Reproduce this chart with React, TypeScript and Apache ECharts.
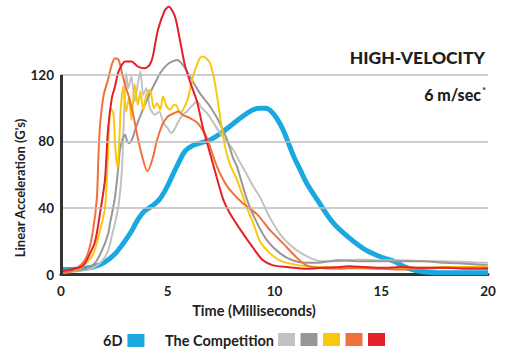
import React, { useEffect, useRef } from "react";
import * as echarts from "echarts";

// ---- Data (time in ms, acceleration in G) ----
const xTicks = [0, 5, 10, 15, 20];
const yTickLabels = [0, 40, 80, 120];

const sixDT = [0, 0.5, 1, 1.5, 2, 2.5, 2.85, 3.3, 3.6, 3.9, 4.25, 4.6, 4.9, 5.2, 5.5, 5.8, 6.1, 6.5, 7.0, 7.5, 7.9, 8.5, 9.0, 9.3, 9.6, 9.85, 10.1, 10.4, 10.9, 11.2, 11.5, 12.0, 12.75, 13.5, 14.3, 15.1, 15.6, 16.2, 17.0, 18, 19, 20];
const sixDG = [3, 3, 3.5, 4.5, 7, 12, 17.5, 26, 33, 38, 41, 45, 51, 59, 67, 74, 77, 79, 81, 85, 89, 95, 99, 100, 100, 98, 94, 87, 71, 63, 55, 45, 31, 22, 14.5, 10, 8, 4, 1.5, 1, 1, 1];

const lightGrayT = [0, 0.5, 1.0, 1.5, 1.92, 2.2, 2.4, 2.55, 2.7, 2.85, 2.95, 3.05, 3.15, 3.3, 3.45, 3.6, 3.72, 3.85, 4.0, 4.17, 4.4, 4.6, 4.8, 5.0, 5.15, 5.3, 5.5, 5.7, 5.9, 6.1, 6.37, 6.6, 6.84, 7.15, 7.45, 7.75, 8.06, 8.4, 8.71, 9.0, 9.32, 9.79, 10.4, 11.05, 11.66, 12.2, 13, 14, 15, 16, 17, 18, 19, 20];
const lightGrayG = [1, 1.5, 2.5, 4, 8, 14, 24, 32, 42, 62, 95, 121, 112, 119, 104, 115, 122, 108, 112, 100, 96, 98, 91, 88, 85, 87, 92, 96, 98, 101, 104, 100, 97, 91, 85, 80, 75, 67, 60, 53, 46.5, 34, 22, 14.5, 10, 8, 8, 9, 8.5, 8.5, 8, 8, 7.5, 7];

const grayT = [0, 0.5, 1.0, 1.26, 1.6, 1.92, 2.2, 2.3, 2.44, 2.53, 2.65, 2.76, 2.9, 3.0, 3.1, 3.2, 3.35, 3.5, 3.8, 4.17, 4.4, 4.64, 4.96, 5.2, 5.43, 5.71, 6.04, 6.5, 6.98, 7.4, 7.78, 8.06, 8.24, 8.71, 9.18, 9.65, 10.26, 10.87, 11.5, 12, 13, 14, 15, 16, 17, 18, 19, 20];
const grayG = [1.5, 2, 3, 4, 7, 14.5, 24, 31, 40, 46.5, 60, 75, 82, 84, 80, 79, 82, 88, 98, 109, 115, 121, 126, 128, 129, 126, 119, 109, 101, 92, 81, 70, 65, 45, 31, 20.5, 12.7, 8.4, 7, 7, 8.5, 8, 8, 8, 8, 7, 6.5, 5.5];

const yellowT = [0, 0.5, 1.0, 1.5, 1.8, 2.06, 2.2, 2.32, 2.45, 2.55, 2.65, 2.8, 2.92, 3.05, 3.18, 3.3, 3.45, 3.6, 3.72, 3.85, 4.0, 4.17, 4.35, 4.5, 4.65, 4.78, 4.95, 5.11, 5.3, 5.43, 5.6, 5.71, 5.9, 6.04, 6.2, 6.37, 6.5, 6.65, 6.8, 6.98, 7.21, 7.45, 7.68, 7.92, 8.24, 8.71, 9.0, 9.32, 9.79, 10.26, 10.73, 11.2, 12, 13, 14, 15, 16, 17, 18, 19, 20];
const yellowG = [1, 2, 4.5, 12, 25, 40, 72, 100, 97, 75, 64, 100, 113, 98, 106, 93, 114, 102, 110, 99, 108, 111, 100, 103, 99, 107, 101, 99, 102, 101, 97, 99, 104, 111, 120, 126, 130, 131, 130, 127, 115, 95, 77, 66, 57, 40, 31, 20, 12.7, 8.4, 6.6, 5.4, 4.5, 4, 3.5, 3.5, 4, 4, 4.5, 4.5, 5];

const orangeT = [0, 0.5, 1.0, 1.26, 1.5, 1.68, 1.75, 1.83, 2.0, 2.2, 2.4, 2.55, 2.7, 2.86, 3.0, 3.2, 3.4, 3.55, 3.8, 4.05, 4.3, 4.5, 4.75, 5.0, 5.3, 5.5, 5.7, 6.04, 6.4, 6.84, 7.0, 7.3, 7.6, 7.9, 8.5, 9.2, 9.8, 10.4, 11.05, 11.5, 12, 13, 14, 15, 16, 17, 18, 19, 20];
const orangeG = [1, 2, 6.6, 12.6, 26.5, 46, 70, 90, 108, 117, 127, 130, 129, 121, 114, 106, 95, 85, 71, 62, 70, 81, 90, 95, 97, 98, 96, 94, 91, 82, 76, 65, 57, 51, 43, 36, 26.5, 18.7, 10, 5.5, 4, 3.5, 4, 3.5, 3, 3.5, 4, 4, 4];

const redT = [0, 0.5, 1.0, 1.26, 1.6, 1.83, 2.06, 2.2, 2.38, 2.53, 2.67, 2.85, 3.0, 3.3, 3.6, 3.93, 4.15, 4.3, 4.54, 4.87, 5.05, 5.34, 5.57, 5.8, 6.04, 6.37, 6.65, 7.0, 7.3, 7.6, 7.9, 8.4, 9.0, 9.46, 9.93, 10.6, 11.5, 12.2, 13.0, 13.5, 14.2, 15, 16, 17, 18, 19, 20];
const redG = [2, 3, 5, 10, 20, 37, 57, 87, 106, 113, 121, 126, 128, 128, 125, 124, 126, 131, 147, 159, 161, 155, 141, 126, 116, 104, 88, 72, 58, 45, 37, 27, 16, 8.5, 5.5, 4.5, 3.5, 4, 4.5, 5, 4.5, 4, 4.5, 4, 4, 3.5, 3.5];

const competitionNames = ["Competition 1", "Competition 2", "Competition 3", "Competition 4", "Competition 5"];
const colors = {
  sixD: "#1aa8e0",
  lightGray: "#c2c2c2",
  gray: "#979797",
  yellow: "#f9c80f",
  orange: "#f2703a",
  red: "#e4202a",
};

const FONT = "Lato, 'Open Sans', sans-serif";

function pairs(t: number[], g: number[]) {
  return t.map((x, i) => [x, g[i]]);
}

export default function App() {
  const ref = useRef<HTMLDivElement>(null);

  useEffect(() => {
    if (!ref.current) return;
    const chart = echarts.init(ref.current, undefined, { renderer: "svg" });

    const comp = (name: string, color: string, t: number[], g: number[]) => ({
      name,
      type: "line",
      data: pairs(t, g),
      showSymbol: false,
      smooth: 0.25,
      color,
      itemStyle: { color },
      lineStyle: { color, width: 2 },
      z: 3,
    });

    const option: any = {
      animation: false,
      backgroundColor: "#ffffff",
      grid: { left: 61, right: 18, top: 0, bottom: 81.5 },
      xAxis: {
        type: "value",
        min: 0,
        max: 20,
        interval: 5,
        axisLine: { show: true, lineStyle: { color: "#333333", width: 3 } },
        axisTick: { show: false },
        splitLine: { show: false },
        axisLabel: {
          margin: 9,
          fontFamily: FONT,
          fontWeight: "bold",
          fontSize: 13.5,
          color: "#222222",
          formatter: (v: number) => (xTicks.includes(v) ? String(v) : ""),
        },
      },
      yAxis: {
        type: "value",
        min: 0,
        max: 165,
        interval: 40,
        axisLine: { show: false },
        axisTick: { show: false },
        splitLine: { show: false },
        axisLabel: {
          margin: 7,
          fontFamily: FONT,
          fontWeight: "bold",
          fontSize: 13.5,
          color: "#222222",
          showMaxLabel: false,
          formatter: (v: number) => (yTickLabels.includes(v) ? String(v) : ""),
        },
      },
      legend: [
        {
          data: ["6D"],
          left: 103,
          top: 333,
          align: "right",
          icon: "rect",
          itemWidth: 17,
          itemHeight: 13,
          selectedMode: false,
          padding: 0,
          textStyle: { fontFamily: FONT, fontWeight: "bold", fontSize: 14.5, color: "#222222" },
        },
        {
          data: competitionNames,
          left: 278,
          top: 333,
          icon: "rect",
          itemWidth: 17,
          itemHeight: 13,
          itemGap: 5.5,
          selectedMode: false,
          padding: 0,
          formatter: () => "",
          textStyle: { fontSize: 1 },
        },
      ],
      graphic: [
        {
          type: "text",
          right: 21,
          top: 48,
          style: { text: "HIGH-VELOCITY", font: `900 17.5px ${FONT}`, fill: "#1e1e1e" },
        },
        {
          type: "text",
          right: 25,
          top: 86,
          style: { text: "6 m/sec", font: `900 16px ${FONT}`, fill: "#1e1e1e" },
        },
        {
          type: "text",
          right: 20,
          top: 86,
          style: { text: "*", font: `bold 9px ${FONT}`, fill: "#1e1e1e" },
        },
        {
          type: "text",
          x: 254,
          y: 310,
          style: {
            text: "Time (Milliseconds)",
            font: `bold 14.5px ${FONT}`,
            fill: "#222222",
            textAlign: "center",
            textVerticalAlign: "middle",
          },
        },
        {
          type: "text",
          x: 20,
          y: 188,
          rotation: Math.PI / 2,
          style: {
            text: "Linear Acceleration (G's)",
            font: `bold 13px ${FONT}`,
            fill: "#222222",
            textAlign: "center",
            textVerticalAlign: "middle",
          },
        },
        {
          type: "text",
          x: 165,
          y: 340,
          style: {
            text: "The Competition",
            font: `bold 14.5px ${FONT}`,
            fill: "#222222",
            textAlign: "left",
            textVerticalAlign: "middle",
          },
        },
      ],
      series: [
        {
          name: "grid",
          type: "line",
          data: [],
          z: 1,
          silent: true,
          markLine: {
            silent: true,
            symbol: ["none", "none"],
            label: { show: false },
            animation: false,
            data: [
              { yAxis: 40, lineStyle: { color: "#bdbdbd", width: 1.5, type: "solid" } },
              { yAxis: 80, lineStyle: { color: "#bdbdbd", width: 1.5, type: "solid" } },
              { yAxis: 120, lineStyle: { color: "#bdbdbd", width: 1.5, type: "solid" } },
              [
                { coord: [0, 0], lineStyle: { color: "#333333", width: 3, type: "solid" } },
                { coord: [0, 120] },
              ],
            ],
          },
        },
        {
          name: "6D",
          type: "line",
          data: pairs(sixDT, sixDG),
          showSymbol: false,
          smooth: 0.35,
          color: colors.sixD,
          itemStyle: { color: colors.sixD },
          lineStyle: { color: colors.sixD, width: 5 },
          z: 2,
        },
        comp(competitionNames[0], colors.lightGray, lightGrayT, lightGrayG),
        comp(competitionNames[1], colors.gray, grayT, grayG),
        comp(competitionNames[2], colors.yellow, yellowT, yellowG),
        comp(competitionNames[3], colors.orange, orangeT, orangeG),
        comp(competitionNames[4], colors.red, redT, redG),
      ],
    };

    chart.setOption(option);
    return () => chart.dispose();
  }, []);

  return <div ref={ref} style={{ width: 506, height: 356, position: "absolute", left: 0, top: 0 }} />;
}
